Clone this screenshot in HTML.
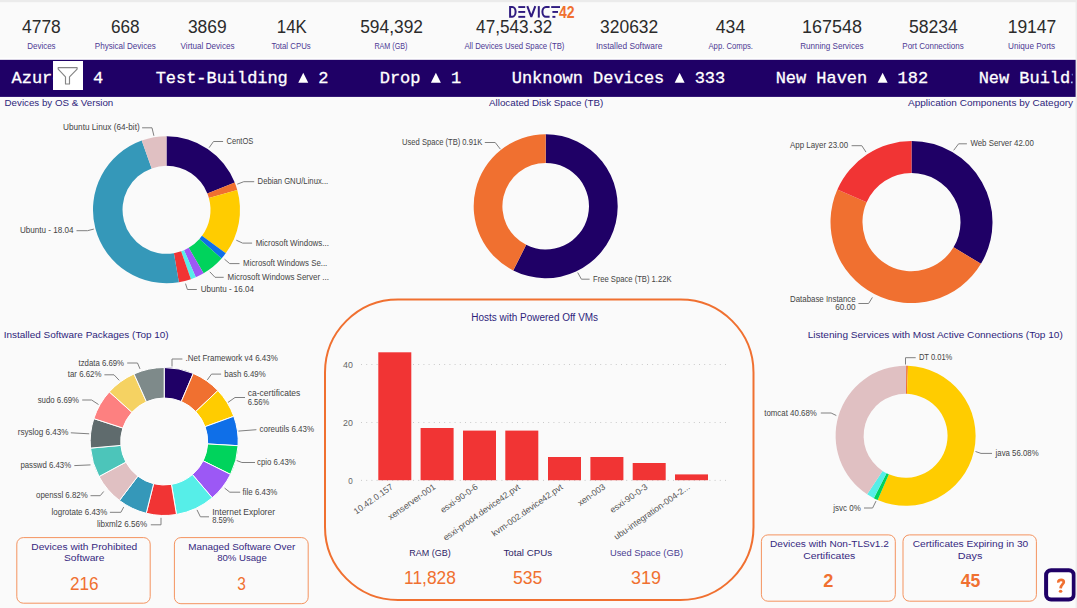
<!DOCTYPE html>
<html><head><meta charset="utf-8"><style>
html,body{margin:0;padding:0;background:#fafafa;overflow:hidden;}
svg{display:block;}

</style></head><body>
<svg width="1077" height="608" viewBox="0 0 1077 608" font-family="Liberation Sans, sans-serif"><rect width="1077" height="608" fill="#fafafa"/><rect width="1077" height="2.2" fill="#ebebeb"/><text x="41.45" y="32.50" font-size="18" fill="#2b2b2b" text-anchor="middle" textLength="38.70" lengthAdjust="spacingAndGlyphs">4778</text><text x="41.45" y="49.20" font-size="9" fill="#4d3994" text-anchor="middle" textLength="28.30" lengthAdjust="spacingAndGlyphs">Devices</text><text x="125.25" y="32.50" font-size="18" fill="#2b2b2b" text-anchor="middle" textLength="28.70" lengthAdjust="spacingAndGlyphs">668</text><text x="125.25" y="49.20" font-size="9" fill="#4d3994" text-anchor="middle" textLength="60.90" lengthAdjust="spacingAndGlyphs">Physical Devices</text><text x="207.30" y="32.50" font-size="18" fill="#2b2b2b" text-anchor="middle" textLength="38.80" lengthAdjust="spacingAndGlyphs">3869</text><text x="207.55" y="49.20" font-size="9" fill="#4d3994" text-anchor="middle" textLength="53.90" lengthAdjust="spacingAndGlyphs">Virtual Devices</text><text x="291.80" y="32.50" font-size="18" fill="#2b2b2b" text-anchor="middle" textLength="30.00" lengthAdjust="spacingAndGlyphs">14K</text><text x="291.15" y="49.20" font-size="9" fill="#4d3994" text-anchor="middle" textLength="39.10" lengthAdjust="spacingAndGlyphs">Total CPUs</text><text x="391.60" y="32.50" font-size="18" fill="#2b2b2b" text-anchor="middle" textLength="62.80" lengthAdjust="spacingAndGlyphs">594,392</text><text x="390.95" y="49.20" font-size="9" fill="#4d3994" text-anchor="middle" textLength="33.10" lengthAdjust="spacingAndGlyphs">RAM (GB)</text><text x="514.25" y="32.50" font-size="18" fill="#2b2b2b" text-anchor="middle" textLength="76.30" lengthAdjust="spacingAndGlyphs">47,543.32</text><text x="514.40" y="49.20" font-size="9" fill="#4d3994" text-anchor="middle" textLength="100.00" lengthAdjust="spacingAndGlyphs">All Devices Used Space (TB)</text><text x="629.15" y="32.50" font-size="18" fill="#2b2b2b" text-anchor="middle" textLength="58.10" lengthAdjust="spacingAndGlyphs">320632</text><text x="629.15" y="49.20" font-size="9" fill="#4d3994" text-anchor="middle" textLength="66.30" lengthAdjust="spacingAndGlyphs">Installed Software</text><text x="730.50" y="32.50" font-size="18" fill="#2b2b2b" text-anchor="middle" textLength="29.40" lengthAdjust="spacingAndGlyphs">434</text><text x="730.70" y="49.20" font-size="9" fill="#4d3994" text-anchor="middle" textLength="44.40" lengthAdjust="spacingAndGlyphs">App. Comps.</text><text x="832.05" y="32.50" font-size="18" fill="#2b2b2b" text-anchor="middle" textLength="59.90" lengthAdjust="spacingAndGlyphs">167548</text><text x="831.85" y="49.20" font-size="9" fill="#4d3994" text-anchor="middle" textLength="63.30" lengthAdjust="spacingAndGlyphs">Running Services</text><text x="933.45" y="32.50" font-size="18" fill="#2b2b2b" text-anchor="middle" textLength="48.90" lengthAdjust="spacingAndGlyphs">58234</text><text x="933.00" y="49.20" font-size="9" fill="#4d3994" text-anchor="middle" textLength="61.40" lengthAdjust="spacingAndGlyphs">Port Connections</text><text x="1032.00" y="32.50" font-size="18" fill="#2b2b2b" text-anchor="middle" textLength="48.60" lengthAdjust="spacingAndGlyphs">19147</text><text x="1031.65" y="49.20" font-size="9" fill="#4d3994" text-anchor="middle" textLength="47.10" lengthAdjust="spacingAndGlyphs">Unique Ports</text><g id="logo"><path d="M510.1,6.95 H512.3 A3.3,4.9 0 0 1 512.3,16.75 H510.1 Z" fill="none" stroke="#2f1b80" stroke-width="2"/><rect x="518.3" y="6.1" width="6.9" height="1.9" fill="#2f1b80"/><rect x="518.3" y="11.0" width="6.9" height="1.9" fill="#2f1b80"/><rect x="518.3" y="15.9" width="6.9" height="1.9" fill="#2f1b80"/><path d="M527.3,6.1 L531.3,16.9 L535.3,6.1" fill="none" stroke="#2f1b80" stroke-width="2" stroke-linejoin="bevel"/><rect x="537.8" y="6.1" width="2" height="11.5" fill="#2f1b80"/><path d="M549.6,6.95 H546 A3.6,4.9 0 0 0 546,16.75 H549.6" fill="none" stroke="#2f1b80" stroke-width="2"/><rect x="551.2" y="6.1" width="8.8" height="1.9" fill="#2f1b80"/><rect x="552.4" y="11.0" width="5.6" height="1.9" fill="#2f1b80"/><rect x="552.4" y="15.9" width="3" height="1.9" fill="#2f1b80"/><text x="559" y="17.6" font-size="16" font-weight="bold" fill="#f07030" textLength="15.6" lengthAdjust="spacingAndGlyphs">42</text></g><rect x="0" y="59.6" width="1077" height="37.3" fill="#1f0066"/><rect x="0" y="57.8" width="1077" height="1.8" fill="#ffffff"/><defs><clipPath id="bclip"><rect x="0" y="55" width="1072.4" height="45"/></clipPath></defs><g clip-path="url(#bclip)"><path d="M72.86,82.8 L82.86,82.8 L77.86,72.8 Z" fill="#ffffff"/><text x="11.60 21.76 31.92 42.08 52.24 92.88" y="82.7" font-family="Liberation Mono, monospace" font-size="17" fill="#ffffff" stroke="#ffffff" stroke-width="0.3">Azure4</text><path d="M298.24,82.8 L308.24,82.8 L303.24,72.8 Z" fill="#ffffff"/><text x="155.70 165.86 176.02 186.18 196.34 206.50 216.66 226.82 236.98 247.14 257.30 267.46 277.62 318.26" y="82.7" font-family="Liberation Mono, monospace" font-size="17" fill="#ffffff" stroke="#ffffff" stroke-width="0.3">Test-Building2</text><path d="M430.90,82.8 L440.90,82.8 L435.90,72.8 Z" fill="#ffffff"/><text x="379.80 389.96 400.12 410.28 450.92" y="82.7" font-family="Liberation Mono, monospace" font-size="17" fill="#ffffff" stroke="#ffffff" stroke-width="0.3">Drop1</text><path d="M674.66,82.8 L684.66,82.8 L679.66,72.8 Z" fill="#ffffff"/><text x="511.80 521.96 532.12 542.28 552.44 562.60 572.76 593.08 603.24 613.40 623.56 633.72 643.88 654.04 694.68 704.84 715.00" y="82.7" font-family="Liberation Mono, monospace" font-size="17" fill="#ffffff" stroke="#ffffff" stroke-width="0.3">UnknownDevices333</text><path d="M877.60,82.8 L887.60,82.8 L882.60,72.8 Z" fill="#ffffff"/><text x="775.70 785.86 796.02 816.34 826.50 836.66 846.82 856.98 897.62 907.78 917.94" y="82.7" font-family="Liberation Mono, monospace" font-size="17" fill="#ffffff" stroke="#ffffff" stroke-width="0.3">NewHaven182</text><text x="978.70 988.86 999.02 1019.34 1029.50 1039.66 1049.82 1059.98 1070.14 1080.30 1090.46" y="82.7" font-family="Liberation Mono, monospace" font-size="17" fill="#ffffff" stroke="#ffffff" stroke-width="0.3">NewBuilding</text></g><rect x="53" y="61" width="30" height="29" fill="#ffffff"/><path d="M58.2,67.6 H77.1 V69.1 L69.5,76.9 V84 H65.5 V76.9 L58.2,69.1 Z" fill="none" stroke="#858585" stroke-width="1.15" stroke-linejoin="round"/><text x="58.95" y="105.80" font-size="9.5" fill="#2e1e7a" text-anchor="middle" textLength="108.70" lengthAdjust="spacingAndGlyphs">Devices by OS &amp; Version</text><text x="546.15" y="105.80" font-size="9.5" fill="#2e1e7a" text-anchor="middle" textLength="114.30" lengthAdjust="spacingAndGlyphs">Allocated Disk Space (TB)</text><text x="990.55" y="105.80" font-size="9.5" fill="#2e1e7a" text-anchor="middle" textLength="165.10" lengthAdjust="spacingAndGlyphs">Application Components by Category</text><text x="86.20" y="337.60" font-size="9.5" fill="#2e1e7a" text-anchor="middle" textLength="164.80" lengthAdjust="spacingAndGlyphs">Installed Software Packages (Top 10)</text><text x="935.25" y="337.60" font-size="9.5" fill="#2e1e7a" text-anchor="middle" textLength="255.10" lengthAdjust="spacingAndGlyphs">Listening Services with Most Active Connections (Top 10)</text><path d="M166.50,136.30A73.5,73.5 0 0 1 234.74,182.50L207.35,193.46A44,44 0 0 0 166.50,165.80Z" fill="#1f0066"/><path d="M234.74,182.50A73.5,73.5 0 0 1 237.26,189.91L208.86,197.89A44,44 0 0 0 207.35,193.46Z" fill="#f07030"/><path d="M237.26,189.91A73.5,73.5 0 0 1 225.74,253.31L201.96,235.85A44,44 0 0 0 208.86,197.89Z" fill="#ffcc00"/><path d="M225.74,253.31A73.5,73.5 0 0 1 221.55,258.50L199.45,238.96A44,44 0 0 0 201.96,235.85Z" fill="#0f6fe8"/><path d="M221.55,258.50A73.5,73.5 0 0 1 203.58,273.26L188.70,247.79A44,44 0 0 0 199.45,238.96Z" fill="#00d35c"/><path d="M203.58,273.26A73.5,73.5 0 0 1 195.81,277.20L184.04,250.15A44,44 0 0 0 188.70,247.79Z" fill="#9c58f5"/><path d="M195.81,277.20A73.5,73.5 0 0 1 190.91,279.13L181.12,251.30A44,44 0 0 0 184.04,250.15Z" fill="#56eee8"/><path d="M190.91,279.13A73.5,73.5 0 0 1 178.88,282.25L173.91,253.17A44,44 0 0 0 181.12,251.30Z" fill="#f13434"/><path d="M178.88,282.25A73.5,73.5 0 0 1 141.72,140.60L151.67,168.38A44,44 0 0 0 173.91,253.17Z" fill="#3598b9"/><path d="M141.72,140.60A73.5,73.5 0 0 1 166.50,136.30L166.50,165.80A44,44 0 0 0 151.67,168.38Z" fill="#e0c0c2"/><text x="101.35" y="130.30" font-size="8.6" fill="#444444" text-anchor="middle" textLength="76.70" lengthAdjust="spacingAndGlyphs">Ubuntu Linux (64-bit)</text><path d="M142.1,127.8L152.0,127.8L153.9,135.8" fill="none" stroke="#808080" stroke-width="1.0"/><text x="46.80" y="233.20" font-size="8.6" fill="#444444" text-anchor="middle" textLength="53.60" lengthAdjust="spacingAndGlyphs">Ubuntu - 18.04</text><path d="M76.5,230.7L87.5,230.7L93.8,229.1" fill="none" stroke="#808080" stroke-width="1.0"/><text x="239.90" y="144.00" font-size="8.6" fill="#444444" text-anchor="middle" textLength="26.80" lengthAdjust="spacingAndGlyphs">CentOS</text><path d="M209.1,147.7L213.5,141.5L223.1,141.5" fill="none" stroke="#808080" stroke-width="1.0"/><text x="292.90" y="184.20" font-size="8.6" fill="#444444" text-anchor="middle" textLength="70.60" lengthAdjust="spacingAndGlyphs">Debian GNU/Linux...</text><path d="M237.2,184.2L243.8,181.7L254.2,181.7" fill="none" stroke="#808080" stroke-width="1.0"/><text x="292.30" y="245.60" font-size="8.6" fill="#444444" text-anchor="middle" textLength="73.20" lengthAdjust="spacingAndGlyphs">Microsoft Windows...</text><path d="M236.3,240.2L242.6,243.1L252.1,243.1" fill="none" stroke="#808080" stroke-width="1.0"/><text x="285.20" y="266.10" font-size="8.6" fill="#444444" text-anchor="middle" textLength="84.20" lengthAdjust="spacingAndGlyphs">Microsoft Windows Se...</text><path d="M224.5,259.2L229.7,263.6L239.5,263.6" fill="none" stroke="#808080" stroke-width="1.0"/><text x="278.25" y="279.80" font-size="8.6" fill="#444444" text-anchor="middle" textLength="101.30" lengthAdjust="spacingAndGlyphs">Microsoft Windows Server ...</text><path d="M209.8,271.8L215.0,277.3L223.7,277.3" fill="none" stroke="#808080" stroke-width="1.0"/><text x="227.40" y="292.00" font-size="8.6" fill="#444444" text-anchor="middle" textLength="53.20" lengthAdjust="spacingAndGlyphs">Ubuntu - 16.04</text><path d="M185.5,283.6L187.4,289.5L196.8,289.5" fill="none" stroke="#808080" stroke-width="1.0"/><path d="M545.70,134.20A72,72 0 1 1 513.24,270.47L526.18,244.85A43.3,43.3 0 1 0 545.70,162.90Z" fill="#1f0066"/><path d="M513.24,270.47A72,72 0 0 1 545.70,134.20L545.70,162.90A43.3,43.3 0 0 0 526.18,244.85Z" fill="#f07030"/><text x="442.15" y="145.00" font-size="8.6" fill="#444444" text-anchor="middle" textLength="80.10" lengthAdjust="spacingAndGlyphs">Used Space (TB) 0.91K</text><path d="M484.8,142.5L495.2,142.5L500.4,149.2" fill="none" stroke="#808080" stroke-width="1.0"/><text x="632.30" y="281.70" font-size="8.6" fill="#444444" text-anchor="middle" textLength="78.60" lengthAdjust="spacingAndGlyphs">Free Space (TB) 1.22K</text><path d="M577.7,272.5L581.4,279.2L589.6,279.2" fill="none" stroke="#808080" stroke-width="1.0"/><path d="M911.50,141.10A81,81 0 0 1 980.96,263.77L953.52,247.31A49,49 0 0 0 911.50,173.10Z" fill="#1f0066"/><path d="M980.96,263.77A81,81 0 0 1 837.37,189.46L866.65,202.36A49,49 0 0 0 953.52,247.31Z" fill="#f07030"/><path d="M837.37,189.46A81,81 0 0 1 911.50,141.10L911.50,173.10A49,49 0 0 0 866.65,202.36Z" fill="#f13434"/><text x="1002.10" y="146.30" font-size="8.6" fill="#444444" text-anchor="middle" textLength="63.40" lengthAdjust="spacingAndGlyphs">Web Server 42.00</text><path d="M953.7,150.3L958.6,143.8L966.9,143.8" fill="none" stroke="#808080" stroke-width="1.0"/><text x="819.05" y="148.20" font-size="8.6" fill="#444444" text-anchor="middle" textLength="58.10" lengthAdjust="spacingAndGlyphs">App Layer 23.00</text><path d="M851.6,145.7L861.8,145.7L866.0,152.1" fill="none" stroke="#808080" stroke-width="1.0"/><text x="822.85" y="301.80" font-size="8.6" fill="#444444" text-anchor="middle" textLength="65.70" lengthAdjust="spacingAndGlyphs">Database Instance</text><path d="M858.4,303.5L868.6,303.5L872.4,297.4" fill="none" stroke="#808080" stroke-width="1.0"/><text x="845.45" y="309.70" font-size="8.6" fill="#444444" text-anchor="middle" textLength="20.50" lengthAdjust="spacingAndGlyphs">60.00</text><path d="M164.20,367.50A74,74 0 0 1 193.28,373.45L181.30,401.50A43.5,43.5 0 0 0 164.20,398.00Z" fill="#1f0066" stroke="#ffffff" stroke-width="1.0"/><path d="M193.28,373.45A74,74 0 0 1 217.88,390.56L195.75,411.56A43.5,43.5 0 0 0 181.30,401.50Z" fill="#f07030" stroke="#ffffff" stroke-width="1.0"/><path d="M217.88,390.56A74,74 0 0 1 233.78,416.32L205.10,426.70A43.5,43.5 0 0 0 195.75,411.56Z" fill="#ffcc00" stroke="#ffffff" stroke-width="1.0"/><path d="M233.78,416.32A74,74 0 0 1 238.08,445.69L207.63,443.96A43.5,43.5 0 0 0 205.10,426.70Z" fill="#0f6fe8" stroke="#ffffff" stroke-width="1.0"/><path d="M238.08,445.69A74,74 0 0 1 230.49,474.39L203.17,460.83A43.5,43.5 0 0 0 207.63,443.96Z" fill="#00d35c" stroke="#ffffff" stroke-width="1.0"/><path d="M230.49,474.39A74,74 0 0 1 212.23,497.80L192.43,474.59A43.5,43.5 0 0 0 203.17,460.83Z" fill="#9c58f5" stroke="#ffffff" stroke-width="1.0"/><path d="M212.23,497.80A74,74 0 0 1 176.48,514.47L171.42,484.40A43.5,43.5 0 0 0 192.43,474.59Z" fill="#56eee8" stroke="#ffffff" stroke-width="1.0"/><path d="M176.48,514.47A74,74 0 0 1 146.23,513.29L153.64,483.70A43.5,43.5 0 0 0 171.42,484.40Z" fill="#f13434" stroke="#ffffff" stroke-width="1.0"/><path d="M146.23,513.29A74,74 0 0 1 119.46,500.45L137.90,476.15A43.5,43.5 0 0 0 153.64,483.70Z" fill="#3598b9" stroke="#ffffff" stroke-width="1.0"/><path d="M119.46,500.45A74,74 0 0 1 99.02,476.54L125.89,462.10A43.5,43.5 0 0 0 137.90,476.15Z" fill="#e0c0c2" stroke="#ffffff" stroke-width="1.0"/><path d="M99.02,476.54A74,74 0 0 1 90.50,448.10L120.87,445.38A43.5,43.5 0 0 0 125.89,462.10Z" fill="#4cc5ba" stroke="#ffffff" stroke-width="1.0"/><path d="M90.50,448.10A74,74 0 0 1 93.83,418.61L122.83,428.04A43.5,43.5 0 0 0 120.87,445.38Z" fill="#5f6b6d" stroke="#ffffff" stroke-width="1.0"/><path d="M93.83,418.61A74,74 0 0 1 109.29,391.89L131.92,412.34A43.5,43.5 0 0 0 122.83,428.04Z" fill="#fd8080" stroke="#ffffff" stroke-width="1.0"/><path d="M109.29,391.89A74,74 0 0 1 134.01,373.94L146.45,401.78A43.5,43.5 0 0 0 131.92,412.34Z" fill="#f5d262" stroke="#ffffff" stroke-width="1.0"/><path d="M134.01,373.94A74,74 0 0 1 164.20,367.50L164.20,398.00A43.5,43.5 0 0 0 146.45,401.78Z" fill="#7e8a8a" stroke="#ffffff" stroke-width="1.0"/><text x="231.70" y="361.30" font-size="8.6" fill="#444444" text-anchor="middle" textLength="92.20" lengthAdjust="spacingAndGlyphs">.Net Framework v4 6.43%</text><path d="M172.0,366.5L172.0,359.0L182.4,359.0" fill="none" stroke="#808080" stroke-width="1.0"/><text x="245.00" y="376.60" font-size="8.6" fill="#444444" text-anchor="middle" textLength="41.40" lengthAdjust="spacingAndGlyphs">bash 6.49%</text><path d="M207.3,379.9L211.5,374.1L221.1,374.1" fill="none" stroke="#808080" stroke-width="1.0"/><text x="274.05" y="396.30" font-size="8.6" fill="#444444" text-anchor="middle" textLength="52.50" lengthAdjust="spacingAndGlyphs">ca-certificates</text><path d="M228.0,402.4L235.0,397.5L245.0,397.5" fill="none" stroke="#808080" stroke-width="1.0"/><text x="286.80" y="432.20" font-size="8.6" fill="#444444" text-anchor="middle" textLength="54.60" lengthAdjust="spacingAndGlyphs">coreutils 6.43%</text><path d="M238.4,431.1L256.4,429.7" fill="none" stroke="#808080" stroke-width="1.0"/><text x="276.40" y="465.00" font-size="8.6" fill="#444444" text-anchor="middle" textLength="38.60" lengthAdjust="spacingAndGlyphs">cpio 6.43%</text><path d="M236.7,460.5L241.9,462.5L255.0,462.5" fill="none" stroke="#808080" stroke-width="1.0"/><text x="260.00" y="494.70" font-size="8.6" fill="#444444" text-anchor="middle" textLength="34.80" lengthAdjust="spacingAndGlyphs">file 6.43%</text><path d="M224.6,488.1L229.8,492.2L240.2,492.2" fill="none" stroke="#808080" stroke-width="1.0"/><text x="243.60" y="515.10" font-size="8.6" fill="#444444" text-anchor="middle" textLength="62.80" lengthAdjust="spacingAndGlyphs">Internet Explorer</text><path d="M197.0,509.9L200.4,516.8L209.0,516.8" fill="none" stroke="#808080" stroke-width="1.0"/><text x="122.00" y="526.80" font-size="8.6" fill="#444444" text-anchor="middle" textLength="50.20" lengthAdjust="spacingAndGlyphs">libxml2 6.56%</text><path d="M161.0,517.8L161.0,524.8L150.8,524.8" fill="none" stroke="#808080" stroke-width="1.0"/><text x="79.45" y="514.80" font-size="8.6" fill="#444444" text-anchor="middle" textLength="55.90" lengthAdjust="spacingAndGlyphs">logrotate 6.43%</text><path d="M123.7,507.1L120.9,512.3L109.9,512.3" fill="none" stroke="#808080" stroke-width="1.0"/><text x="61.85" y="498.20" font-size="8.6" fill="#444444" text-anchor="middle" textLength="51.70" lengthAdjust="spacingAndGlyphs">openssl 6.82%</text><path d="M103.7,491.5L100.2,495.7L90.5,495.7" fill="none" stroke="#808080" stroke-width="1.0"/><text x="45.75" y="468.10" font-size="8.6" fill="#444444" text-anchor="middle" textLength="50.70" lengthAdjust="spacingAndGlyphs">passwd 6.43%</text><path d="M90.5,464.9L74.3,465.6" fill="none" stroke="#808080" stroke-width="1.0"/><text x="43.05" y="435.30" font-size="8.6" fill="#444444" text-anchor="middle" textLength="50.70" lengthAdjust="spacingAndGlyphs">rsyslog 6.43%</text><path d="M89.2,433.8L70.8,432.8" fill="none" stroke="#808080" stroke-width="1.0"/><text x="58.40" y="402.50" font-size="8.6" fill="#444444" text-anchor="middle" textLength="41.40" lengthAdjust="spacingAndGlyphs">sudo 6.69%</text><path d="M98.5,404.5L91.6,400.0L82.2,400.0" fill="none" stroke="#808080" stroke-width="1.0"/><text x="84.65" y="377.30" font-size="8.6" fill="#444444" text-anchor="middle" textLength="33.70" lengthAdjust="spacingAndGlyphs">tar 6.62%</text><path d="M119.2,380.3L114.0,374.8L104.4,374.8" fill="none" stroke="#808080" stroke-width="1.0"/><text x="101.25" y="365.50" font-size="8.6" fill="#444444" text-anchor="middle" textLength="45.50" lengthAdjust="spacingAndGlyphs">tzdata 6.69%</text><path d="M140.0,368.9L137.5,363.0L127.2,363.0" fill="none" stroke="#808080" stroke-width="1.0"/><text x="258.55" y="405.20" font-size="8.6" fill="#444444" text-anchor="middle" textLength="21.50" lengthAdjust="spacingAndGlyphs">6.56%</text><text x="223.00" y="523.40" font-size="8.6" fill="#444444" text-anchor="middle" textLength="21.60" lengthAdjust="spacingAndGlyphs">8.59%</text><path d="M905.60,365.80A70,70 0 0 1 906.21,365.80L905.97,393.80A42,42 0 0 0 905.60,393.80Z" fill="#8a7ab0"/><path d="M906.21,365.80A70,70 0 0 1 907.92,365.84L906.99,393.82A42,42 0 0 0 905.97,393.80Z" fill="#f07030"/><path d="M907.92,365.84A70,70 0 1 1 877.69,499.99L888.85,474.32A42,42 0 1 0 906.99,393.82Z" fill="#ffcc00"/><path d="M877.69,499.99A70,70 0 0 1 873.82,498.17L886.53,473.22A42,42 0 0 0 888.85,474.32Z" fill="#00d35c"/><path d="M873.82,498.17A70,70 0 0 1 867.17,494.31L882.54,470.90A42,42 0 0 0 886.53,473.22Z" fill="#56eee8"/><path d="M867.17,494.31A70,70 0 0 1 905.60,365.80L905.60,393.80A42,42 0 0 0 882.54,470.90Z" fill="#e0c0c2"/><text x="935.60" y="360.20" font-size="8.6" fill="#444444" text-anchor="middle" textLength="33.40" lengthAdjust="spacingAndGlyphs">DT 0.01%</text><path d="M905.5,364.5L905.5,357.7L915.7,357.7" fill="none" stroke="#808080" stroke-width="1.0"/><text x="790.55" y="415.50" font-size="8.6" fill="#444444" text-anchor="middle" textLength="52.70" lengthAdjust="spacingAndGlyphs">tomcat 40.68%</text><path d="M820.8,413.0L831.1,413.0L836.3,415.5" fill="none" stroke="#808080" stroke-width="1.0"/><text x="1017.10" y="456.00" font-size="8.6" fill="#444444" text-anchor="middle" textLength="43.00" lengthAdjust="spacingAndGlyphs">java 56.08%</text><path d="M975.5,451.5L981.0,453.4L992.0,453.4" fill="none" stroke="#808080" stroke-width="1.0"/><text x="847.05" y="510.50" font-size="8.6" fill="#444444" text-anchor="middle" textLength="27.50" lengthAdjust="spacingAndGlyphs">jsvc 0%</text><path d="M864.0,508.0L872.6,508.0L876.0,501.1" fill="none" stroke="#808080" stroke-width="1.0"/><rect x="325" y="299.5" width="428.5" height="300.5" rx="73" ry="73" fill="none" stroke="#f07030" stroke-width="2"/><text x="534.70" y="321.30" font-size="10" fill="#2e1e7a" text-anchor="middle" textLength="126.80" lengthAdjust="spacingAndGlyphs">Hosts with Powered Off VMs</text><line x1="361" y1="364.5" x2="727" y2="364.5" stroke="#c4c4c4" stroke-width="0.9" stroke-dasharray="1 4.2"/><text x="347.90" y="367.80" font-size="8.6" fill="#666666" text-anchor="middle" textLength="9.80" lengthAdjust="spacingAndGlyphs">40</text><line x1="361" y1="422.5" x2="727" y2="422.5" stroke="#c4c4c4" stroke-width="0.9" stroke-dasharray="1 4.2"/><text x="347.90" y="425.80" font-size="8.6" fill="#666666" text-anchor="middle" textLength="9.80" lengthAdjust="spacingAndGlyphs">20</text><line x1="361" y1="480.4" x2="727" y2="480.4" stroke="#c4c4c4" stroke-width="0.9" stroke-dasharray="1 4.2"/><text x="350.55" y="483.70" font-size="8.6" fill="#666666" text-anchor="middle" textLength="4.50" lengthAdjust="spacingAndGlyphs">0</text><rect x="378.3" y="352.3" width="33" height="127.9" fill="#f13434"/><rect x="420.6" y="428" width="33" height="52.2" fill="#f13434"/><rect x="463" y="430.6" width="33" height="49.6" fill="#f13434"/><rect x="505.3" y="430.6" width="33" height="49.6" fill="#f13434"/><rect x="548" y="457" width="33" height="23.2" fill="#f13434"/><rect x="590.4" y="457" width="33" height="23.2" fill="#f13434"/><rect x="632.7" y="463" width="33" height="17.2" fill="#f13434"/><rect x="675" y="474.4" width="33" height="5.8" fill="#f13434"/><text transform="translate(393.8,488.3) rotate(-35)" font-size="8.7" fill="#555555" text-anchor="end">10.42.0.157</text><text transform="translate(436.1,488.3) rotate(-35)" font-size="8.7" fill="#555555" text-anchor="end">xenserver-001</text><text transform="translate(478.5,488.3) rotate(-35)" font-size="8.7" fill="#555555" text-anchor="end">esxi-90-0-6</text><text transform="translate(520.8,488.3) rotate(-35)" font-size="8.7" fill="#555555" text-anchor="end">esxi-prod4.device42.pvt</text><text transform="translate(563.5,488.3) rotate(-35)" font-size="8.7" fill="#555555" text-anchor="end">kvm-002.device42.pvt</text><text transform="translate(605.9,488.3) rotate(-35)" font-size="8.7" fill="#555555" text-anchor="end">xen-003</text><text transform="translate(648.2,488.3) rotate(-35)" font-size="8.7" fill="#555555" text-anchor="end">esxi-90-0-3</text><text transform="translate(690.5,488.3) rotate(-35)" font-size="8.7" fill="#555555" text-anchor="end">ubu-integration-004-2...</text><text x="430.00" y="556.00" font-size="9.5" fill="#2e2466" text-anchor="middle" textLength="41.40" lengthAdjust="spacingAndGlyphs">RAM (GB)</text><text x="527.75" y="556.00" font-size="9.5" fill="#2e2466" text-anchor="middle" textLength="48.70" lengthAdjust="spacingAndGlyphs">Total CPUs</text><text x="646.45" y="556.00" font-size="9.5" fill="#4b3d92" text-anchor="middle" textLength="73.10" lengthAdjust="spacingAndGlyphs">Used Space (GB)</text><text x="430.00" y="583.80" font-size="18" fill="#f07030" text-anchor="middle" textLength="51.80" lengthAdjust="spacingAndGlyphs">11,828</text><text x="527.60" y="583.80" font-size="18" fill="#f07030" text-anchor="middle" textLength="29.40" lengthAdjust="spacingAndGlyphs">535</text><text x="645.90" y="583.80" font-size="18" fill="#f07030" text-anchor="middle" textLength="30.00" lengthAdjust="spacingAndGlyphs">319</text><rect x="16.8" y="537.6" width="133.39999999999998" height="65.60000000000002" rx="6.5" ry="6.5" fill="none" stroke="#f4935f" stroke-width="1"/><text x="84.30" y="550.00" font-size="9.6" fill="#36287f" text-anchor="middle" textLength="106.00" lengthAdjust="spacingAndGlyphs">Devices with Prohibited</text><text x="84.25" y="561.00" font-size="9.6" fill="#36287f" text-anchor="middle" textLength="40.50" lengthAdjust="spacingAndGlyphs">Software</text><text x="84.20" y="590.00" font-size="18" fill="#f07030" text-anchor="middle" textLength="28.60" lengthAdjust="spacingAndGlyphs">216</text><rect x="174.4" y="537.6" width="133.79999999999998" height="66.10000000000002" rx="6.5" ry="6.5" fill="none" stroke="#f4935f" stroke-width="1"/><text x="241.75" y="550.00" font-size="9.6" fill="#36287f" text-anchor="middle" textLength="107.10" lengthAdjust="spacingAndGlyphs">Managed Software Over</text><text x="242.00" y="561.00" font-size="9.6" fill="#36287f" text-anchor="middle" textLength="49.60" lengthAdjust="spacingAndGlyphs">80% Usage</text><text x="241.50" y="590.00" font-size="18" fill="#f07030" text-anchor="middle" textLength="8.60" lengthAdjust="spacingAndGlyphs">3</text><rect x="761.4" y="534.9" width="133.89999999999998" height="66.30000000000007" rx="6.5" ry="6.5" fill="none" stroke="#f4935f" stroke-width="1"/><text x="829.40" y="547.30" font-size="9.6" fill="#36287f" text-anchor="middle" textLength="118.80" lengthAdjust="spacingAndGlyphs">Devices with Non-TLSv1.2</text><text x="829.25" y="559.20" font-size="9.6" fill="#36287f" text-anchor="middle" textLength="52.10" lengthAdjust="spacingAndGlyphs">Certificates</text><text x="828.25" y="586.90" font-size="18" fill="#f07030" text-anchor="middle" font-weight="bold" textLength="10.10" lengthAdjust="spacingAndGlyphs">2</text><rect x="903.0" y="534.9" width="133.4000000000001" height="66.30000000000007" rx="6.5" ry="6.5" fill="none" stroke="#f4935f" stroke-width="1"/><text x="970.50" y="547.30" font-size="9.6" fill="#36287f" text-anchor="middle" textLength="115.60" lengthAdjust="spacingAndGlyphs">Certificates Expiring in 30</text><text x="970.00" y="559.20" font-size="9.6" fill="#36287f" text-anchor="middle" textLength="24.60" lengthAdjust="spacingAndGlyphs">Days</text><text x="970.50" y="586.90" font-size="18" fill="#f07030" text-anchor="middle" font-weight="bold" textLength="19.60" lengthAdjust="spacingAndGlyphs">45</text><rect x="1046.1" y="570.3" width="27.7" height="29.2" rx="5" ry="5" fill="#ffffff" stroke="#1f0066" stroke-width="4"/><path d="M1058.3,582.6 C1058.2,580.4 1059.6,579.9 1061.2,579.9 C1063,579.9 1063.8,580.9 1063.8,582.1 C1063.8,584 1060.7,584.6 1060.6,588.4" fill="none" stroke="#f07030" stroke-width="2.7"/><ellipse cx="1060.6" cy="591.3" rx="1.8" ry="1.55" fill="#f07030"/><rect x="1075.6" width="1.4" height="608" fill="#ececec"/></svg>
</body></html>
